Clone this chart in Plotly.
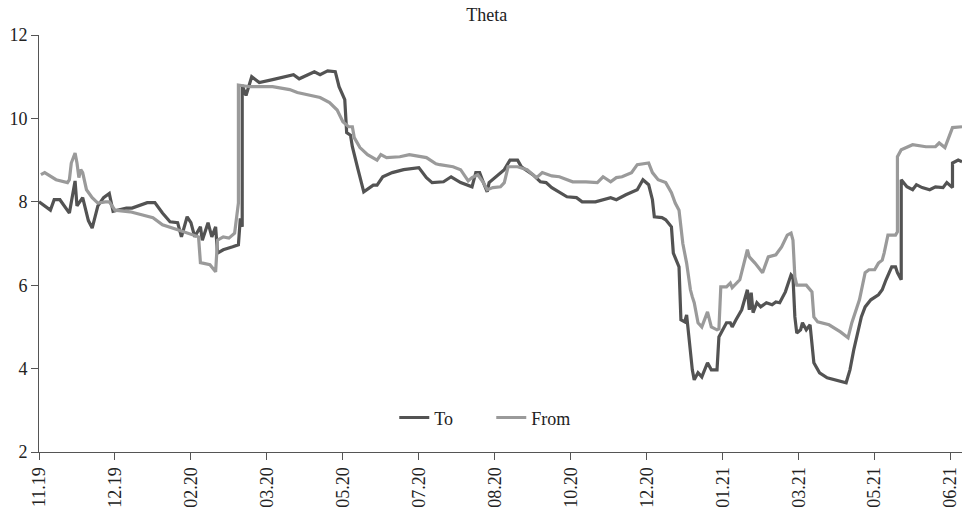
import plotly.graph_objects as go

# Tick labels (one every 40 observations)
tick_labels = ["11.19", "12.19", "02.20", "03.20", "05.20", "07.20", "08.20",
               "10.20", "12.20", "01.21", "03.21", "05.21", "06.21"]
tick_step = 40

# "To" series (observation index, value)
to_x = [0, 6, 8, 11, 16, 19, 20, 23, 26, 28, 31, 34, 37, 39, 46, 49, 57, 61, 65, 69,
        73, 75, 78, 80, 82, 85, 86, 89, 91, 93, 94, 97, 102, 105, 106, 107, 107, 109, 112, 116,
        123, 134, 137, 142, 145, 148, 152, 156, 158, 161, 162, 164, 165, 168, 171, 176, 178, 181, 186, 192,
        200, 204, 207, 213, 217, 222, 226, 228, 230, 232, 234, 236, 237, 245, 248, 252, 254, 260, 264, 267,
        270, 274, 278, 283, 286, 293, 297, 301, 304, 309, 315, 318, 321, 323, 324, 328, 330, 333, 334, 337,
        338, 340, 341, 343, 344, 345, 347, 349, 352, 354, 357, 358, 360, 362, 364, 365, 367, 370, 373, 374,
        375, 376, 378, 380, 383, 386, 388, 390, 393, 396, 397, 398, 399, 401, 402, 404, 406, 407, 408, 411,
        415, 425, 427, 429, 433, 435, 438, 442, 444, 446, 449, 451, 452, 454, 454, 457, 460, 462, 465, 469,
        472, 476, 478, 481, 481, 484, 486]
to_y = [8.0, 7.8, 8.05, 8.05, 7.73, 8.5, 7.9, 8.1, 7.55, 7.37, 7.9, 8.1, 8.2, 7.77, 7.85, 7.85, 7.98, 7.98, 7.73, 7.52,
        7.5, 7.16, 7.64, 7.5, 7.16, 7.4, 7.08, 7.5, 7.16, 7.4, 6.77, 6.85, 6.92, 6.97, 7.6, 7.4, 10.8, 10.55, 11.0, 10.86,
        10.93, 11.05, 10.95, 11.05, 11.12, 11.05, 11.14, 11.12, 10.76, 10.45, 9.66, 9.6, 9.32, 8.77, 8.24, 8.4, 8.4, 8.6, 8.7, 8.77,
        8.82, 8.58, 8.46, 8.48, 8.6, 8.46, 8.38, 8.36, 8.7, 8.7, 8.46, 8.24, 8.46, 8.77, 9.0, 9.0, 8.84, 8.65, 8.48, 8.46,
        8.34, 8.24, 8.12, 8.1, 8.0, 8.0, 8.05, 8.1, 8.05, 8.17, 8.29, 8.53, 8.41, 8.05, 7.64, 7.62, 7.57, 7.4, 6.77, 6.44,
        5.17, 5.12, 5.29, 4.45, 3.97, 3.73, 3.9, 3.8, 4.14, 3.97, 3.97, 4.76, 4.93, 5.1, 5.1, 5.0, 5.17, 5.41, 5.89, 5.41,
        5.82, 5.34, 5.58, 5.48, 5.58, 5.53, 5.6, 5.58, 5.84, 6.25, 6.2, 5.24, 4.85, 4.93, 5.1, 4.93, 5.05, 4.62, 4.14, 3.9,
        3.78, 3.66, 3.97, 4.45, 5.24, 5.48, 5.65, 5.77, 5.89, 6.13, 6.44, 6.44, 6.3, 6.13, 8.53, 8.36, 8.29, 8.41, 8.34, 8.29,
        8.36, 8.34, 8.46, 8.34, 8.93, 9.0, 8.96]

# "From" series (observation index, value)
from_x = [1, 3, 9, 15, 16, 17, 19, 20, 21, 22, 23, 25, 28, 31, 35, 37, 40, 48, 60, 65,
          73, 81, 84, 85, 90, 93, 94, 97, 100, 103, 105, 105, 111, 123, 132, 136, 148, 153, 157, 160,
          163, 165, 166, 169, 173, 178, 180, 183, 190, 195, 204, 209, 211, 218, 222, 226, 228, 231, 234, 236,
          239, 243, 245, 247, 252, 257, 262, 265, 270, 274, 281, 288, 294, 297, 301, 304, 307, 312, 315, 321,
          323, 326, 330, 333, 335, 337, 339, 341, 343, 344, 345, 347, 349, 352, 354, 357, 358, 359, 362, 364,
          365, 369, 371, 373, 374, 377, 381, 384, 388, 391, 394, 396, 397, 398, 399, 404, 407, 408, 410, 416,
          422, 426, 428, 432, 435, 437, 440, 442, 444, 445, 447, 451, 452, 452, 454, 460, 467, 472, 474, 477,
          479, 481, 486]
from_y = [8.65, 8.7, 8.53, 8.46, 8.53, 8.93, 9.17, 8.93, 8.58, 8.77, 8.7, 8.29, 8.1, 7.97, 8.0, 8.0, 7.8, 7.76, 7.62, 7.45,
          7.33, 7.2, 7.16, 6.54, 6.49, 6.32, 7.08, 7.16, 7.13, 7.25, 7.97, 10.8, 10.76, 10.76, 10.69, 10.62, 10.5, 10.38, 10.2, 9.92,
          9.8, 9.8, 9.54, 9.3, 9.13, 9.0, 9.13, 9.06, 9.08, 9.13, 9.06, 8.91, 8.89, 8.84, 8.77, 8.5, 8.58, 8.65, 8.46, 8.29,
          8.34, 8.36, 8.46, 8.84, 8.84, 8.77, 8.58, 8.7, 8.62, 8.6, 8.48, 8.48, 8.46, 8.6, 8.48, 8.58, 8.6, 8.7, 8.89, 8.93,
          8.7, 8.53, 8.46, 8.22, 7.97, 7.8, 7.0, 6.53, 5.89, 5.72, 5.58, 5.1, 5.0, 5.36, 5.0, 4.93, 4.95, 5.96, 5.96, 6.05,
          5.94, 6.13, 6.53, 6.85, 6.68, 6.53, 6.3, 6.68, 6.73, 6.92, 7.2, 7.25, 7.08, 6.2, 6.0, 6.0, 5.84, 5.24, 5.12, 5.05,
          4.88, 4.74, 5.1, 5.65, 6.3, 6.37, 6.37, 6.53, 6.6, 6.77, 7.2, 7.2, 7.28, 9.08, 9.25, 9.37, 9.32, 9.32, 9.41, 9.3,
          9.54, 9.78, 9.8]

FONT = "Liberation Serif"
AXIS_COLOR = "#555555"
TEXT_COLOR = "#222222"

fig = go.Figure()
fig.add_trace(go.Scatter(x=to_x, y=to_y, mode="lines", name="To",
                         line=dict(color="#535353", width=3.2)))
fig.add_trace(go.Scatter(x=from_x, y=from_y, mode="lines", name="From",
                         line=dict(color="#9a9a9a", width=3.2)))

fig.update_layout(
    width=962, height=508,
    margin=dict(l=39, r=0, t=35, b=56),
    paper_bgcolor="white", plot_bgcolor="white",
    font=dict(family=FONT, size=18, color=TEXT_COLOR),
    title=dict(text="Theta", x=0.506, xref="container", y=0.972, yref="container",
               xanchor="center", yanchor="middle", font=dict(family=FONT, size=18, color=TEXT_COLOR)),
    showlegend=True,
    hovermode=False,
    legend=dict(orientation="h", x=0.49, y=0.082, xanchor="center", yanchor="middle",
                bgcolor="rgba(0,0,0,0)", font=dict(family=FONT, size=18, color=TEXT_COLOR),
                entrywidth=52, entrywidthmode="pixels", tracegroupgap=0),
    xaxis=dict(range=[0, 486], tickmode="array",
               tickvals=[i * tick_step for i in range(len(tick_labels))],
               ticktext=tick_labels, tickangle=-90, automargin=False,
               showgrid=False, zeroline=False, showline=True, linecolor=AXIS_COLOR, linewidth=1,
               ticks="outside", ticklen=7, tickcolor=AXIS_COLOR, tickwidth=1,
               tickfont=dict(family=FONT, size=18, color=TEXT_COLOR)),
    yaxis=dict(range=[2, 12], tickmode="array", tickvals=[2, 4, 6, 8, 10, 12], automargin=False,
               showgrid=False, zeroline=False, showline=True, linecolor=AXIS_COLOR, linewidth=1,
               ticks="outside", ticklen=7, tickcolor=AXIS_COLOR, tickwidth=1,
               tickfont=dict(family=FONT, size=18, color=TEXT_COLOR)),
)

fig.write_html("out.html", config={"displayModeBar": False},
               post_script="document.body.style.margin='0';document.body.style.overflow='hidden';")
